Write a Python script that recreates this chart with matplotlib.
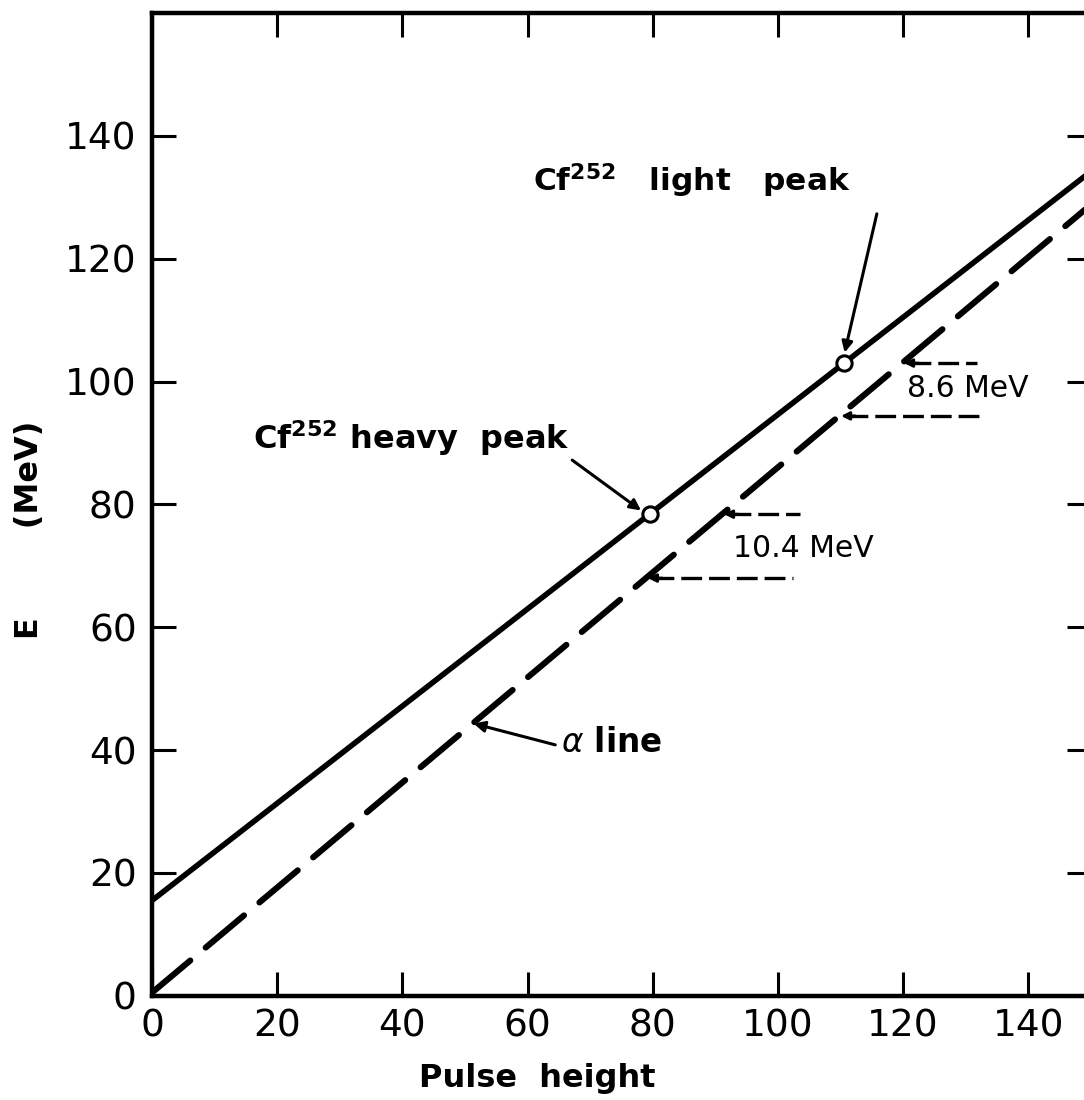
import numpy as np
import matplotlib
matplotlib.use("Agg")
import matplotlib.pyplot as plt

# Energy calibration of the detector: pulse height against energy
pulse = [0, 150]
fragment_E = [15.5, 134.2]   # fission-fragment calibration line (solid)
alpha_E = [0.5, 128.8]       # alpha-particle calibration line (dashed)

# Cf-252 fragment peaks and their pulse-height defects
peak_names = ["heavy", "light"]
peak_pulse = [79.5, 110.5]
peak_E = [78.4, 103.0]
defect_MeV = [10.4, 8.6]

x_ticks = [0, 20, 40, 60, 80, 100, 120, 140]
y_ticks = [0, 20, 40, 60, 80, 100, 120, 140]

plt.rcParams["font.family"] = ["DejaVu Sans"]
plt.rcParams["lines.scale_dashes"] = False

fig = plt.figure(figsize=(10.84, 11.0), dpi=100)
ax = fig.add_axes([0.1402, 0.0948, 0.8662, 0.8934])
ax.set_xlim(0, 150)
ax.set_ylim(0, 160)

# calibration lines
ax.plot(pulse, fragment_E, color="black", lw=4.0, solid_capstyle="round", zorder=3)
ax.plot(pulse, alpha_E, color="black", lw=4.4, dashes=(36, 14.5),
        dash_capstyle="round", zorder=3)

# peak markers
ax.plot(peak_pulse, peak_E, "o", ms=11, mfc="white", mec="black", mew=2.2, zorder=5)

# pulse-height defect brackets: horizontal levels from the alpha line
level_ends = {"heavy": (103.5, 102.4), "light": (131.8, 132.3)}
defect_text_pos = {"heavy": (92.8, 71.4), "light": (120.6, 97.5)}
for name, e_up, d in zip(peak_names, peak_E, defect_MeV):
    e_low = e_up - d
    up_end, low_end = level_ends[name]
    for e, x_end in ((e_up, up_end), (e_low, low_end)):
        x0 = float(np.interp(e, alpha_E, pulse))
        ax.plot([x0 + 1.2, x_end], [e, e], color="black", lw=2.4,
                dashes=(15, 5), dash_capstyle="butt", zorder=2)
        ax.annotate("", xy=(x0 + 0.3, e), xytext=(x0 + 2.6, e),
                    arrowprops=dict(arrowstyle="-|>", lw=2.0, color="black",
                                    mutation_scale=12, shrinkA=0, shrinkB=0),
                    zorder=2)
    tx, ty = defect_text_pos[name]
    ax.text(tx, ty, f"{d} MeV", fontsize=21.5, ha="left", va="baseline")

# peak labels with pointers
ax.annotate(r"Cf$^{\mathbf{252}}$ heavy  peak", xy=(79.2, 78.2), xytext=(16.1, 89.0),
            fontsize=23, fontweight="bold", ha="left", va="baseline",
            arrowprops=dict(arrowstyle="-|>", lw=2.2, color="black",
                            mutation_scale=16, shrinkA=0, shrinkB=6,
                            relpos=(1.0, 0.0)))
ax.text(60.9, 130.9, r"Cf$^{\mathbf{252}}$   light   peak", fontsize=22.5,
        fontweight="bold", ha="left", va="baseline")
ax.annotate("", xy=(110.4, 103.6), xytext=(115.8, 127.3),
            arrowprops=dict(arrowstyle="-|>", lw=2.2, color="black",
                            mutation_scale=16, shrinkA=0, shrinkB=5))

ax.annotate(r"$\alpha$ line", xy=(51.4, 44.3), xytext=(65.3, 39.6),
            fontsize=23.5, fontweight="bold", ha="left", va="baseline",
            arrowprops=dict(arrowstyle="-|>", lw=2.2, color="black",
                            mutation_scale=16, shrinkA=2, shrinkB=0,
                            relpos=(0.0, 0.4)))

# axes styling
for s in ax.spines.values():
    s.set_linewidth(3.2)
ax.set_xticks(x_ticks)
ax.set_yticks(y_ticks)
ax.set_xticklabels([str(v) for v in x_ticks])
ax.set_yticklabels([str(v) for v in y_ticks])
ax.tick_params(direction="in", length=17, width=2.2, top=True, right=True,
               labelsize=27)
ax.tick_params(axis="x", pad=9)
ax.tick_params(axis="y", pad=11)

ax.text((537 - 152) / 939, -0.093, "Pulse  height", transform=ax.transAxes,
        fontsize=23, fontweight="bold", ha="center", va="baseline")
ax.text(-0.13, 0.474, "E        (MeV)", transform=ax.transAxes, rotation=90,
        fontsize=23, fontweight="bold", ha="center", va="center")

fig.savefig("out.png", dpi=100)
